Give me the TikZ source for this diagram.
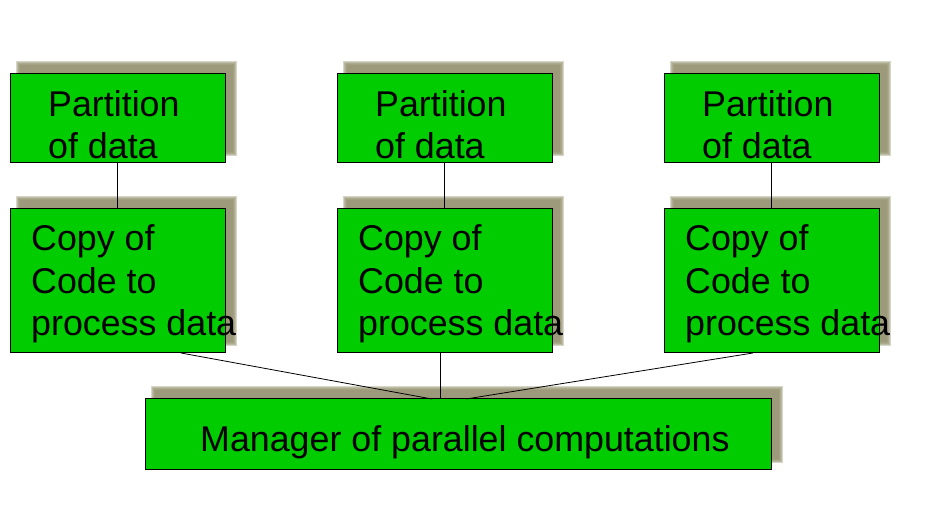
\documentclass[tikz,border=0pt]{standalone}
\usepackage{fontspec}
\setmainfont{Liberation Sans}
\usetikzlibrary{positioning}
\definecolor{boxgreen}{RGB}{0,204,0}
\definecolor{shadowkhaki}{RGB}{146,144,108}
\pgfdeclarelayer{background}
\pgfsetlayers{background,main}

\begin{document}
\begin{tikzpicture}[
    node distance=46pt and 112pt,
    box/.style={draw,fill=boxgreen,line width=1pt,outer sep=0pt,inner sep=0pt},
    partbox/.style={box,minimum width=215pt,minimum height=89pt},
    copybox/.style={box,minimum width=215pt,minimum height=144pt},
    txt/.style={anchor=north west,inner sep=0pt,align=left,
      font=\fontsize{35.8}{42.5}\selectfont},
    wire/.style={line width=0.8pt}]
  \useasboundingbox (0,0) rectangle (925pt,508pt);
  \node[partbox] (part1) at (117.5pt,389.5pt) {};
  \node[partbox,right=of part1] (part2) {};
  \node[partbox,right=of part2] (part3) {};
  \node[copybox,below=of part1] (copy1) {};
  \node[copybox,below=of part2] (copy2) {};
  \node[copybox,below=of part3] (copy3) {};
  \node[box,minimum width=626pt,minimum height=71pt,below=of copy2,xshift=13.5pt] (mgr) {};
  % labels
  \foreach \i in {1,2,3}{
    \node[txt] (part\i txt) at ([shift={(38pt,-16pt)}]part\i.north west) {Partition\\of data};
    \node[txt] (copy\i txt) at ([shift={(21pt,-15.5pt)}]copy\i.north west) {Copy of\\Code to\\process data};
  }
  \node[txt] (mgrtxt) at ([shift={(55pt,-26pt)}]mgr.north west) {Manager of parallel computations};
  % soft shadows
  \begin{pgfonlayer}{background}
    \foreach \n in {part1,part2,part3,copy1,copy2,copy3,mgr}
      \foreach \k in {0,...,4}
        \fill[shadowkhaki,opacity=0.38]
          ([shift={(6pt+\k*1pt,7pt+\k*1pt)}]\n.south west) rectangle
          ([shift={(12pt-\k*1pt,13pt-\k*1pt)}]\n.north east);
  \end{pgfonlayer}
  \draw[wire] (part1) -- (copy1);
  \draw[wire] (part2) -- (copy2);
  \draw[wire] (part3) -- (copy3);
  \draw[wire] ([xshift=63.5pt]copy1.south) -- ([xshift=-26pt]mgr.north);
  \draw[wire] ([xshift=-4.5pt]copy2.south) -- ([xshift=-18pt]mgr.north);
  \draw[wire] ([xshift=-18.5pt]copy3.south) -- ([xshift=8pt]mgr.north);
\end{tikzpicture}
\end{document}
